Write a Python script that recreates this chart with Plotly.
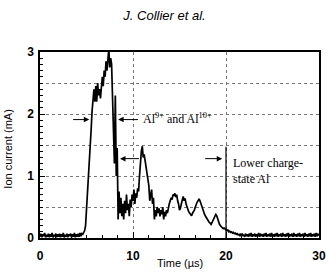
import numpy as np
import plotly.graph_objects as go

# Time axis (sampling every 0.1 us) and ion current (mA)
time_us = np.round(np.arange(0, 301) * 0.1, 1)
current_mA = [
    # 0.0 - 0.9
    0.02, 0.07, 0.01, 0.06, 0.03, 0.08, 0.01, 0.05, 0.02, 0.07,
    # 1.0 - 1.9
    0.01, 0.06, 0.02, 0.08, 0.01, 0.05, 0.03, 0.07, 0.01, 0.06,
    # 2.0 - 2.9
    0.02, 0.07, 0.01, 0.06, 0.02, 0.08, 0.01, 0.05, 0.02, 0.07,
    # 3.0 - 3.9
    0.01, 0.06, 0.03, 0.07, 0.01, 0.06, 0.02, 0.08, 0.01, 0.06,
    # 4.0 - 4.9
    0.02, 0.07, 0.02, 0.08, 0.03, 0.07, 0.06, 0.09, 0.12, 0.20,
    # 5.0 - 5.9
    0.45, 0.65, 0.85, 1.05, 1.35, 1.75, 2.05, 2.25, 2.40, 2.20,
    # 6.0 - 6.9
    2.45, 2.20, 2.50, 2.30, 2.40, 2.25, 2.50, 2.60, 2.45, 2.70,
    # 7.0 - 7.9
    2.60, 2.85, 2.70, 2.95, 3.05, 2.75, 2.90, 2.80, 2.30, 1.70,
    # 8.0 - 8.9
    1.20, 2.30, 1.00, 1.45, 0.30, 0.75, 0.40, 0.65, 0.35, 0.55,
    # 9.0 - 9.9
    0.30, 0.60, 0.40, 0.70, 0.45, 0.55, 0.35, 0.62, 0.50, 0.70,
    # 10.0 - 10.9
    0.60, 0.78, 0.55, 0.72, 0.65, 0.80, 0.75, 1.00, 1.25, 1.40,
    # 11.0 - 11.9
    1.48, 1.30, 1.35, 1.27, 1.15, 1.05, 0.95, 0.85, 0.60, 0.75,
    # 12.0 - 12.9
    0.78, 0.55, 0.65, 0.30, 0.45, 0.35, 0.50, 0.40, 0.48, 0.35,
    # 13.0 - 13.9
    0.45, 0.38, 0.50, 0.30, 0.42, 0.35, 0.45, 0.40, 0.50, 0.55,
    # 14.0 - 14.9
    0.60, 0.65, 0.62, 0.70, 0.68, 0.72, 0.66, 0.70, 0.60, 0.55,
    # 15.0 - 15.9
    0.45, 0.48, 0.55, 0.62, 0.67, 0.60, 0.64, 0.55, 0.50, 0.45,
    # 16.0 - 16.9
    0.42, 0.40, 0.38, 0.36, 0.40, 0.42, 0.45, 0.50, 0.55, 0.58,
    # 17.0 - 17.9
    0.60, 0.63, 0.60, 0.55, 0.50, 0.45, 0.42, 0.38, 0.35, 0.32,
    # 18.0 - 18.9
    0.30, 0.28, 0.25, 0.24, 0.22, 0.25, 0.28, 0.32, 0.36, 0.38,
    # 19.0 - 19.9
    0.36, 0.30, 0.25, 0.22, 0.20, 0.18, 0.17, 0.15, 0.16, 0.14,
    # 20.0 - 20.9
    0.14, 0.12, 0.13, 0.10, 0.11, 0.09, 0.10, 0.08, 0.09, 0.07,
    # 21.0 - 21.9
    0.08, 0.06, 0.07, 0.05, 0.06, 0.04, 0.07, 0.03, 0.06, 0.04,
    # 22.0 - 22.9
    0.02, 0.07, 0.03, 0.06, 0.02, 0.07, 0.03, 0.08, 0.02, 0.06,
    # 23.0 - 23.9
    0.03, 0.07, 0.02, 0.06, 0.03, 0.08, 0.02, 0.07, 0.03, 0.06,
    # 24.0 - 24.9
    0.02, 0.07, 0.03, 0.08, 0.02, 0.06, 0.03, 0.07, 0.02, 0.08,
    # 25.0 - 25.9
    0.03, 0.06, 0.02, 0.07, 0.03, 0.08, 0.02, 0.06, 0.03, 0.07,
    # 26.0 - 26.9
    0.02, 0.08, 0.03, 0.06, 0.02, 0.07, 0.03, 0.08, 0.02, 0.06,
    # 27.0 - 27.9
    0.03, 0.07, 0.02, 0.08, 0.03, 0.06, 0.02, 0.07, 0.03, 0.08,
    # 28.0 - 28.9
    0.02, 0.06, 0.03, 0.07, 0.02, 0.08, 0.03, 0.06, 0.02, 0.07,
    # 29.0 - 29.9
    0.03, 0.08, 0.02, 0.06, 0.03, 0.07, 0.02, 0.08, 0.03, 0.06,
    # 30.0
    0.04,
]

x_tick_vals = [0, 10, 20, 30]
x_tick_text = ["<b>0</b>", "<b>10</b>", "<b>20</b>", "<b>30</b>"]
y_tick_vals = [0, 1, 2, 3]
y_tick_text = ["<b>0</b>", "<b>1</b>", "<b>2</b>", "<b>3</b>"]

fig = go.Figure()
# helper trace (draws nothing) that binds the fine-tick overlay axis
fig.add_trace(go.Scatter(x=time_us[:1], y=current_mA[:1], mode="none",
                         yaxis="y2", showlegend=False, hoverinfo="skip"))
fig.add_trace(go.Scatter(
    x=time_us, y=current_mA, mode="lines",
    line=dict(color="black", width=1.7),
    showlegend=False, hoverinfo="skip",
))

serif = "Liberation Serif, Times New Roman, serif"
sans = "Liberation Sans, Arial, sans-serif"
arrow_common = dict(xref="x", yref="y", axref="x", ayref="y", text="",
                    showarrow=True, arrowhead=2, arrowsize=1.1,
                    arrowwidth=1, arrowcolor="black")

annotations = [
    dict(x=5.3, y=1.91, ax=3.4, ay=1.91, **arrow_common),
    dict(x=8.4, y=1.91, ax=10.7, ay=1.91, **arrow_common),
    dict(x=8.6, y=1.28, ax=10.8, ay=1.28, **arrow_common),
    dict(x=19.6, y=1.28, ax=17.6, ay=1.28, **arrow_common),
    dict(x=10.9, y=1.93, xref="x", yref="y", xanchor="left", yanchor="middle",
         text="Al<sup>9+</sup> and Al<sup>10+</sup>", showarrow=False,
         font=dict(family=serif, size=12, color="black")),
    dict(x=20.5, y=1.36, xref="x", yref="y", xanchor="left", yanchor="top",
         text="Lower charge-<br>state Al", showarrow=False, align="left",
         font=dict(family=serif, size=12, color="black")),
    # axis titles
    dict(x=0.5, y=-0.132, xref="paper", yref="paper", xanchor="center",
         yanchor="middle", text="Time (µs)", showarrow=False,
         font=dict(family=sans, size=11, color="black")),
    dict(x=-0.115, y=0.48, xref="paper", yref="paper", xanchor="center",
         yanchor="middle", text="Ion current (mA)", showarrow=False, textangle=-90,
         font=dict(family=sans, size=11, color="black")),
]

fig.add_shape(type="line", xref="x", yref="y", x0=20, x1=20, y0=0, y1=1.47,
              line=dict(color="black", width=1.2))

axis_font = dict(family=sans, size=12, color="black")

fig.update_layout(
    width=329, height=273,
    margin=dict(l=40, r=10, t=52, b=35),
    paper_bgcolor="white", plot_bgcolor="white",
    annotations=annotations,
    font=axis_font,
    title=dict(text="<i>J. Collier et al.</i>", x=0.5, xanchor="center",
               xref="container", y=1 - 15 / 273, yref="container", yanchor="middle",
               font=dict(family=sans, size=13, color="black")),
    xaxis=dict(
        range=[0, 30], tickmode="array", tickvals=x_tick_vals, ticktext=x_tick_text,
        ticks="inside", ticklen=6, tickwidth=1, tickcolor="black",
        ticklabelstandoff=6, automargin=False,
        showline=True, linecolor="black", linewidth=1.5, mirror=True,
        showgrid=True, gridcolor="#777", griddash="dot", gridwidth=1,
        zeroline=False,
        minor=dict(ticks="inside", ticklen=3, tick0=0, dtick=10 / 6,
                   tickcolor="black", showgrid=False),
        tickfont=axis_font,
    ),
    yaxis=dict(
        range=[0, 3], tickmode="array", tickvals=y_tick_vals, ticktext=y_tick_text,
        ticks="inside", ticklen=5, tickwidth=1, tickcolor="black",
        ticklabelstandoff=2, automargin=False,
        showline=True, linecolor="black", linewidth=1.5, mirror=True,
        showgrid=True, gridcolor="#777", griddash="dot", gridwidth=1,
        zeroline=False,
        minor=dict(ticks="", tick0=0, dtick=0.5, showgrid=True,
                   gridcolor="#777", griddash="dot", gridwidth=1),
        tickfont=axis_font,
    ),
    yaxis2=dict(
        range=[0, 3], overlaying="y", side="left", anchor="x",
        tickmode="linear", tick0=0, dtick=0.1, ticks="inside", ticklen=3,
        tickwidth=1, tickcolor="black", showticklabels=False,
        showgrid=False, zeroline=False, showline=False, automargin=False,
    ),
)

fig.write_html("out.html")
